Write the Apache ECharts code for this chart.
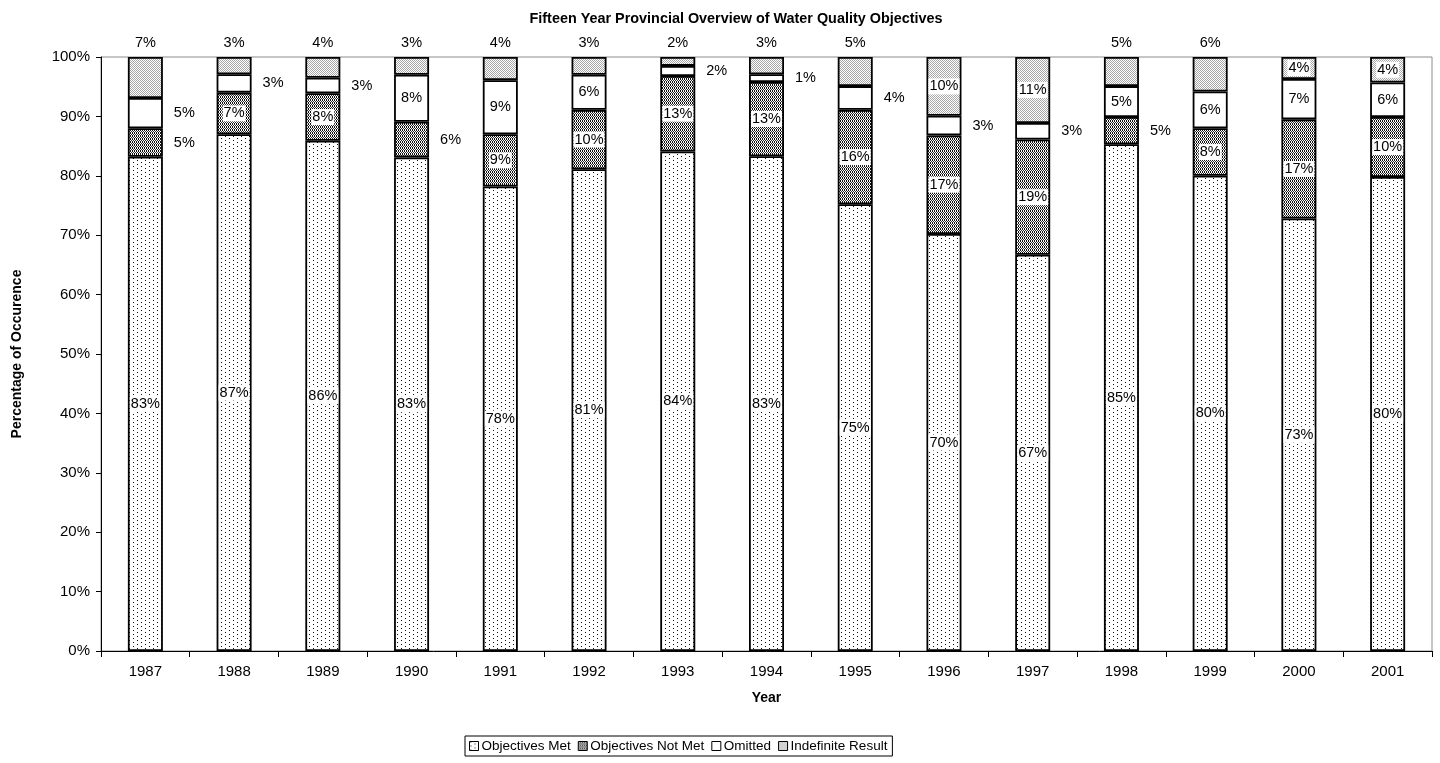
<!DOCTYPE html>
<html>
<head>
<meta charset="utf-8">
<script src="https://cdn.jsdelivr.net/npm/echarts@6/dist/echarts.min.js"></script>
<style>
  html, body { margin: 0; padding: 0; background: #fff; }
  #chart { width: 1440px; height: 763px; }
</style>
</head>
<body>
<div id="chart"></div>
<script>
// Years on the category axis
const years = ['1987', '1988', '1989', '1990', '1991', '1992', '1993', '1994',
               '1995', '1996', '1997', '1998', '1999', '2000', '2001'];

// Share of results per year (percent)
const objectivesMet    = [83.2, 87.0, 85.9, 83.1, 78.2, 81.1, 84.1, 83.3, 75.2, 70.2, 66.7, 85.3, 80.0, 72.8, 79.8];
const objectivesNotMet = [4.8, 7.0, 8.0, 6.0, 8.8, 10.0, 12.7, 12.5, 15.9, 16.6, 19.4, 4.6, 8.0, 16.7, 10.1];
const omitted          = [5.1, 3.1, 2.6, 7.9, 9.1, 5.9, 1.7, 1.3, 4.0, 3.3, 2.8, 5.2, 6.2, 6.8, 5.8];
const indefinite       = [6.9, 2.9, 3.5, 3.0, 3.9, 3.0, 1.5, 2.9, 4.9, 9.9, 11.1, 4.9, 5.8, 3.7, 4.3];

// Value axis tick labels
const yTicks = ['0%', '10%', '20%', '30%', '40%', '50%', '60%', '70%', '80%', '90%', '100%'];

// Where each data label sits: c = inside segment, r = beside the bar, t = above the bar
const labelPlacement = {
  met:    'ccccccccccccccc'.split(''),
  notMet: 'rccrcccccccrccc'.split(''),
  omit:   'rrrcccrrrrrcccc'.split(''),
  indef:  'tttttttttccttcc'.split('')
};

// Monochrome fill patterns
function makePattern(w, h, draw) {
  const c = document.createElement('canvas');
  c.width = w; c.height = h;
  const ctx = c.getContext('2d');
  ctx.fillStyle = '#fff';
  ctx.fillRect(0, 0, w, h);
  draw(ctx);
  return { image: c, repeat: 'repeat' };
}
const dot = (ctx, x, y, col) => { ctx.fillStyle = col; ctx.fillRect(x, y, 1, 1); };

// sparse staggered dots
const patMet = makePattern(8, 4, ctx => {
  dot(ctx, 1, 0, '#111'); dot(ctx, 5, 2, '#111');
});
// dense dashed verticals
const patNotMet = makePattern(2, 3, ctx => {
  dot(ctx, 0, 0, '#111'); dot(ctx, 0, 1, '#111'); dot(ctx, 1, 2, '#333');
});
// light grey checker
const patIndef = makePattern(2, 2, ctx => {
  dot(ctx, 0, 0, '#a8a8a8'); dot(ctx, 1, 1, '#a8a8a8');
});

const font = 'Liberation Sans, Arial, sans-serif';

function labelFor(code) {
  const base = {
    show: true, color: '#000', fontFamily: font, fontSize: 14.5,
    formatter: p => Math.round(p.value) + '%'
  };
  if (code === 'r') return Object.assign(base, { position: 'right', distance: 11 });
  if (code === 't') return Object.assign(base, { position: 'top', distance: 7 });
  return Object.assign(base, { position: 'inside', backgroundColor: '#fff', padding: [1, 1, 0, 1] });
}

function buildData(values, codes) {
  return values.map((v, i) => ({ value: v, label: labelFor(codes[i]) }));
}

function barSeries(name, values, codes, fill) {
  return {
    name: name,
    type: 'bar',
    stack: 'total',
    barWidth: 35,
    data: buildData(values, codes),
    itemStyle: { color: fill, borderColor: '#000', borderWidth: 1.8 },
    emphasis: { disabled: true }
  };
}

const chart = echarts.init(document.getElementById('chart'), null, { renderer: 'canvas' });
chart.setOption({
  animation: false,
  backgroundColor: '#fff',
  textStyle: { fontFamily: font },
  title: {
    text: 'Fifteen Year Provincial Overview of Water Quality Objectives',
    left: 731, top: 7, textAlign: 'center',
    textStyle: { fontFamily: font, fontSize: 14.4, fontWeight: 'bold', color: '#000' }
  },
  grid: {
    left: 101, right: 8, top: 57, bottom: 112,
    outerBoundsMode: 'none', containLabel: false,
    show: true, borderColor: '#8c8c8c', borderWidth: 1, backgroundColor: '#fff'
  },
  legend: {
    left: 465, top: 736,
    itemWidth: 9, itemHeight: 9, itemGap: 7,
    padding: [3, 5, 3, 4],
    borderColor: '#000', borderWidth: 1,
    icon: 'rect',
    itemStyle: { borderWidth: 1, borderColor: '#000' },
    textStyle: { fontFamily: font, fontSize: 13.5, color: '#000', padding: [0, 0, 0, -2] },
    selectedMode: false
  },
  xAxis: {
    type: 'category',
    data: years,
    name: 'Year', nameLocation: 'middle', nameGap: 40,
    nameTextStyle: { fontFamily: font, fontSize: 14, fontWeight: 'bold', color: '#000' },
    axisLine: { lineStyle: { color: '#000', width: 1 } },
    axisTick: { show: true, length: 6, lineStyle: { color: '#000' } },
    axisLabel: { color: '#000', fontFamily: font, fontSize: 15, margin: 13 },
    splitLine: { show: false }
  },
  yAxis: {
    type: 'value', min: 0, max: 100, interval: 10,
    name: 'Percentage of Occurence', nameLocation: 'middle', nameGap: 77,
    nameTextStyle: { fontFamily: font, fontSize: 14, fontWeight: 'bold', color: '#000' },
    axisLine: { show: true, lineStyle: { color: '#000', width: 1 } },
    axisTick: { show: true, length: 5, lineStyle: { color: '#000' } },
    axisLabel: {
      color: '#000', fontFamily: font, fontSize: 15, margin: 11,
      formatter: v => yTicks[Math.round(v / 10)]
    },
    splitLine: { show: false }
  },
  series: [
    barSeries('Objectives Met', objectivesMet, labelPlacement.met, patMet),
    barSeries('Objectives Not Met', objectivesNotMet, labelPlacement.notMet, patNotMet),
    barSeries('Omitted', omitted, labelPlacement.omit, '#fff'),
    barSeries('Indefinite Result', indefinite, labelPlacement.indef, patIndef)
  ]
});
</script>
</body>
</html>
